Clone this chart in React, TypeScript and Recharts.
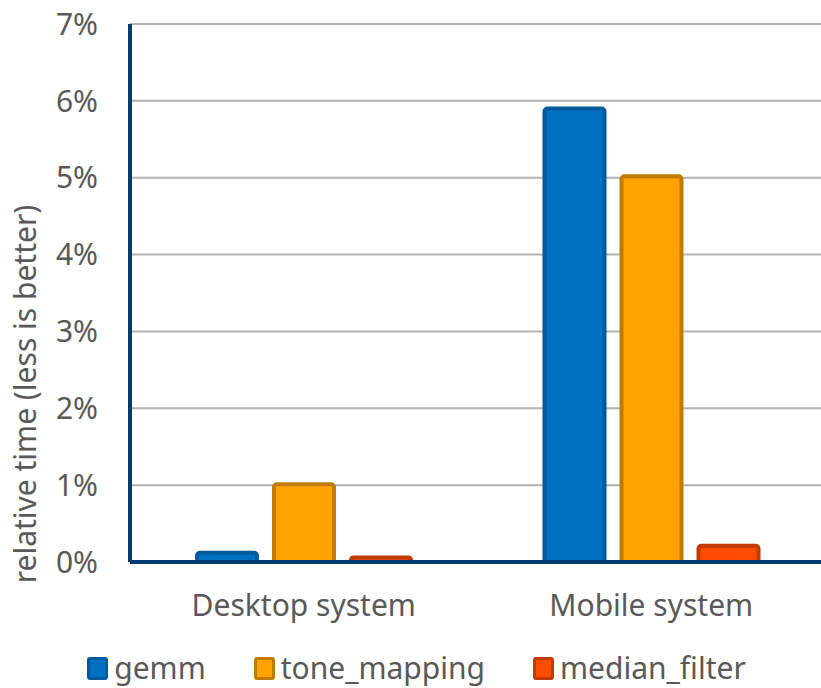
import { Bar, BarChart, CartesianGrid, Legend, XAxis, YAxis } from "recharts";

const categories = ["Desktop system", "Mobile system"];
const gemm = [0.0012, 0.059];
const toneMapping = [0.0101, 0.0502];
const medianFilter = [0.0006, 0.0021];
const yTicks = [0, 0.01, 0.02, 0.03, 0.04, 0.05, 0.06, 0.07];

const SERIES = [
  { key: "gemm", fill: "#0070c0", stroke: "#005a9c" },
  { key: "tone_mapping", fill: "#ffa300", stroke: "#c07c00" },
  { key: "median_filter", fill: "#ff4c00", stroke: "#c03c00" },
];

const data = categories.map((name, i) => ({
  name,
  gemm: gemm[i],
  tone_mapping: toneMapping[i],
  median_filter: medianFilter[i],
}));

const FONT = "'Noto Sans', sans-serif";
const TEXT = "#595959";
const AXIS = "#003c71";

function LegendContent() {
  return (
    <div
      style={{
        display: "flex",
        justifyContent: "center",
        gap: 48,
        fontFamily: FONT,
        fontSize: 30,
        color: TEXT,
        paddingLeft: 8,
        paddingTop: 10,
        lineHeight: "40px",
      }}
    >
      {SERIES.map((s) => (
        <span key={s.key} style={{ display: "flex", alignItems: "center" }}>
          <span
            style={{
              width: 15,
              height: 17,
              background: s.fill,
              border: `3px solid ${s.stroke}`,
              borderRadius: 3,
              marginRight: 6,
            }}
          />
          {s.key}
        </span>
      ))}
    </div>
  );
}

function YLabel() {
  return (
    <text
      x={24}
      y={394}
      transform="rotate(-90, 24, 394)"
      textAnchor="middle"
      dominantBaseline="central"
      fontSize={30}
      fontFamily={FONT}
      fill={TEXT}
    >
      relative time (less is better)
    </text>
  );
}

export default function App() {
  return (
    <div style={{ position: "absolute", left: 0, top: 0, width: 821, height: 688, background: "#fff" }}>
      <BarChart
        width={821}
        height={688}
        data={data}
        margin={{ top: 24, right: -4, left: 0, bottom: 0 }}
        barSize={60}
        barGap={17}
      >
        <CartesianGrid vertical={false} stroke="#b3b3b3" strokeWidth={2} />
        <XAxis
          dataKey="name"
          height={76}
          tickLine={false}
          axisLine={{ stroke: AXIS, strokeWidth: 4 }}
          tick={{ fontSize: 30, fill: TEXT, fontFamily: FONT }}
          tickMargin={27}
        />
        <YAxis
          width={130}
          domain={[0, 0.07]}
          ticks={yTicks}
          interval={0}
          tickLine={false}
          axisLine={{ stroke: AXIS, strokeWidth: 4 }}
          tick={{ fontSize: 30, fill: TEXT, fontFamily: FONT }}
          tickMargin={26}
          tickFormatter={(v: number) => `${Math.round(v * 100)}%`}
          label={<YLabel />}
        />
        <Legend verticalAlign="bottom" height={50} content={<LegendContent />} />
        {SERIES.map((s) => (
          <Bar
            key={s.key}
            dataKey={s.key}
            fill={s.fill}
            stroke={s.stroke}
            strokeWidth={4}
            radius={[3, 3, 0, 0]}
            isAnimationActive={false}
          />
        ))}
      </BarChart>
    </div>
  );
}
